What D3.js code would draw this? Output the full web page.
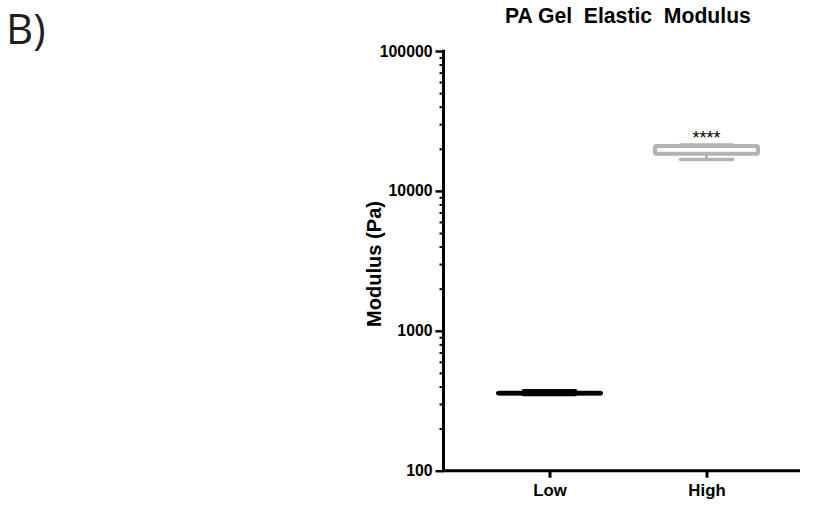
<!DOCTYPE html>
<html>
<head>
<meta charset="utf-8">
<script src="https://cdn.jsdelivr.net/npm/d3@7"></script>
<style>
  html, body { margin: 0; padding: 0; background: #fff; }
  svg { display: block; }
  text { white-space: pre; }
</style>
</head>
<body>
<svg id="chart" width="817" height="508"></svg>
<script>
// Elastic modulus of the two PA gel stiffnesses (Pa), box-and-whisker summary
const categories = ["Low", "High"];
const minVals    = [350, 16800];
const q1Vals     = [356, 18400];
const medians    = [358, 20900];
const q3Vals     = [360, 20900];
const maxVals    = [373, 21300];
const sigLabels  = ["", "****"];
const boxColors  = ["#000000", "#b3b3b3"];
const yTicks     = [100, 1000, 10000, 100000];

const svg = d3.select("#chart");
const font = "'Liberation Sans', Arial, sans-serif";

const plot = { left: 443.5, right: 800, top: 51, bottom: 470.7 };

const y = d3.scaleLog().domain([100, 100000]).range([plot.bottom, plot.top]);
const x = d3.scalePoint().domain(categories)
  .range([plot.left + 106, plot.left + 263]);

const boxW = 103, capW = 52;

// scale a text's font so that it spans the wanted length
function fitText(sel, baseSize, wanted) {
  sel.attr("font-size", baseSize);
  const len = sel.node().getComputedTextLength();
  if (len > 0) sel.attr("font-size", baseSize * wanted / len);
  return sel;
}

// panel letter
svg.append("text")
  .attr("x", 6).attr("y", 44)
  .attr("font-family", "'Open Sans', 'Noto Sans', sans-serif")
  .attr("font-size", 42).attr("fill", "#231f20")
  .text("B)");

// title
const title = svg.append("text")
  .attr("x", 505).attr("y", 22.7)
  .attr("text-anchor", "start")
  .attr("font-family", font).attr("font-weight", "bold")
  .attr("fill", "#000")
  .text("PA Gel  Elastic  Modulus");
fitText(title, 20, 246);

// y axis with log minor ticks
const minorTicks = y.ticks().filter(v => !yTicks.includes(v));
const yAxis = svg.append("g").attr("transform", `translate(${plot.left},0)`);
yAxis.call(d3.axisLeft(y).tickValues(minorTicks).tickSize(4).tickFormat(""));
yAxis.call(g => g.selectAll(".tick line").attr("stroke-width", 2));
const yMajor = svg.append("g").attr("transform", `translate(${plot.left},0)`)
  .call(d3.axisLeft(y).tickValues(yTicks).tickSize(8).tickPadding(3).tickFormat(d3.format("d")));
yMajor.selectAll(".tick line").attr("stroke-width", 2.5);
yMajor.selectAll(".tick text")
  .attr("font-family", font).attr("font-weight", "bold")
  .attr("font-size", 15.8).attr("fill", "#000");
svg.selectAll(".domain").remove();
svg.append("line")
  .attr("x1", plot.left).attr("x2", plot.left)
  .attr("y1", plot.top - 1.2).attr("y2", plot.bottom)
  .attr("stroke", "#000").attr("stroke-width", 3);

// x axis
const xAxis = svg.append("g").attr("transform", `translate(0,${plot.bottom})`)
  .call(d3.axisBottom(x).tickSize(7).tickPadding(6));
xAxis.select(".domain").remove();
xAxis.selectAll(".tick line").attr("stroke-width", 3);
xAxis.selectAll(".tick text")
  .attr("font-family", font).attr("font-weight", "bold")
  .attr("font-size", 16.8).attr("fill", "#000");
svg.append("line")
  .attr("x1", plot.left - 1.5).attr("x2", plot.right)
  .attr("y1", plot.bottom).attr("y2", plot.bottom)
  .attr("stroke", "#000").attr("stroke-width", 3);

// y axis title
const yTitle = svg.append("text")
  .attr("transform", `translate(381,264) rotate(-90)`)
  .attr("text-anchor", "middle")
  .attr("font-family", font).attr("font-weight", "bold")
  .attr("fill", "#000")
  .text("Modulus (Pa)");
fitText(yTitle, 19, 126);

// boxes
const data = categories.map((c, i) => ({
  cat: c, min: minVals[i], q1: q1Vals[i], med: medians[i],
  q3: q3Vals[i], max: maxVals[i], sig: sigLabels[i], color: boxColors[i]
}));

const boxes = svg.append("g").selectAll("g").data(data).join("g");

boxes.append("line")
  .attr("x1", d => x(d.cat)).attr("x2", d => x(d.cat))
  .attr("y1", d => y(d.max)).attr("y2", d => y(d.min))
  .attr("stroke", d => d.color).attr("stroke-width", 3);

boxes.selectAll("line.cap")
  .data(d => [d.min, d.max].map(v => ({ v, d })))
  .join("line").attr("class", "cap")
  .attr("x1", o => x(o.d.cat) - capW / 2).attr("x2", o => x(o.d.cat) + capW / 2)
  .attr("y1", o => y(o.v)).attr("y2", o => y(o.v))
  .attr("stroke", o => o.d.color).attr("stroke-width", 3.5)
  .attr("stroke-linecap", "round");

boxes.append("rect")
  .attr("x", d => x(d.cat) - boxW / 2).attr("width", boxW)
  .attr("y", d => y(d.q3)).attr("height", d => Math.max(0.01, y(d.q1) - y(d.q3)))
  .attr("fill", "#fff").attr("stroke", d => d.color).attr("stroke-width", 4)
  .attr("rx", 1.5);

boxes.append("line")
  .attr("x1", d => x(d.cat) - boxW / 2).attr("x2", d => x(d.cat) + boxW / 2)
  .attr("y1", d => y(d.med)).attr("y2", d => y(d.med))
  .attr("stroke", d => d.color).attr("stroke-width", 4);

boxes.append("text")
  .attr("x", d => x(d.cat)).attr("y", d => y(d.max) - 1)
  .attr("text-anchor", "middle")
  .attr("font-family", font).attr("font-size", 18).attr("fill", "#000")
  .text(d => d.sig);
</script>
</body>
</html>
